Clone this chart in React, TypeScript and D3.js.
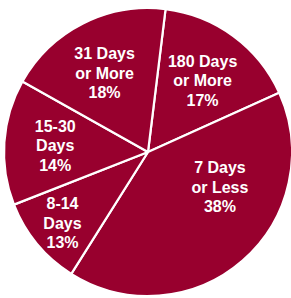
import React, { useRef, useEffect } from 'react';
import * as d3 from 'd3';

// slices clockwise, starting a little right of 12 o'clock
const categories = ['180 Days or More', '7 Days or Less', '8-14 Days', '15-30 Days', '31 Days or More'];
// share of the circle each slice takes in the picture
const sliceShares = [16.3, 40.7, 10.1, 14.1, 18.8];
// percentages printed on the slices
const pctLabels = ['17%', '38%', '13%', '14%', '18%'];
// label text lines (before the percentage)
const labelLines = [
  ['180 Days', 'or More'],
  ['7 Days', 'or Less'],
  ['8-14', 'Days'],
  ['15-30', 'Days'],
  ['31 Days', 'or More'],
];

const App = () => {
  const svgRef = useRef<SVGSVGElement>(null);

  useEffect(() => {
    const width = 291;
    const height = 298;
    const cx = 148;
    const cy = 152;
    const radius = 144;
    const startAngle = (7 * Math.PI) / 180;

    // label placement: [angle nudge in degrees, distance from centre]
    const labelLayout = [
      [1, 90],
      [-23, 80],
      [0, 111],
      [0, 93],
      [-2, 90],
    ];

    const svg = d3.select(svgRef.current)
      .attr('width', width)
      .attr('height', height);
    svg.selectAll('*').remove();

    const data = categories.map((c, i) => ({ name: c, value: sliceShares[i], i }));

    const pie = d3.pie<any>()
      .value(d => d.value)
      .sort(null)
      .startAngle(startAngle)
      .endAngle(startAngle + 2 * Math.PI);

    const arc = d3.arc<any>()
      .innerRadius(0)
      .outerRadius(radius);

    const arcs = pie(data);

    const g = svg.append('g')
      .attr('transform', `translate(${cx}, ${cy})`);

    g.selectAll('.slice')
      .data(arcs)
      .enter().append('path')
      .attr('class', 'slice')
      .attr('d', arc)
      .attr('fill', '#98002e')
      .attr('stroke', '#ffffff')
      .attr('stroke-width', 2.2)
      .attr('stroke-linejoin', 'round');

    const labels = g.selectAll('.label')
      .data(arcs)
      .enter().append('text')
      .attr('class', 'label')
      .attr('text-anchor', 'middle')
      .attr('fill', '#ffffff')
      .style('font-family', '"Liberation Sans", Arial, sans-serif')
      .style('font-weight', 'bold')
      .style('font-size', '16px')
      .attr('transform', d => {
        const [nudge, dist] = labelLayout[d.data.i];
        const a = (d.startAngle + d.endAngle) / 2 + (nudge * Math.PI) / 180;
        return `translate(${dist * Math.sin(a)}, ${-dist * Math.cos(a)})`;
      });

    labels.each(function(d) {
      const lines = [...labelLines[d.data.i], pctLabels[d.data.i]];
      const t = d3.select(this);
      lines.forEach((line, k) => {
        t.append('tspan')
          .attr('x', 0)
          .attr('y', (k - 1) * 19.5)
          .attr('dy', '0.36em')
          .text(line);
      });
    });
  }, []);

  return (
    <svg
      ref={svgRef}
      style={{ position: 'absolute', left: 0, top: 0, display: 'block', background: '#ffffff' }}
    ></svg>
  );
};

export default App;
